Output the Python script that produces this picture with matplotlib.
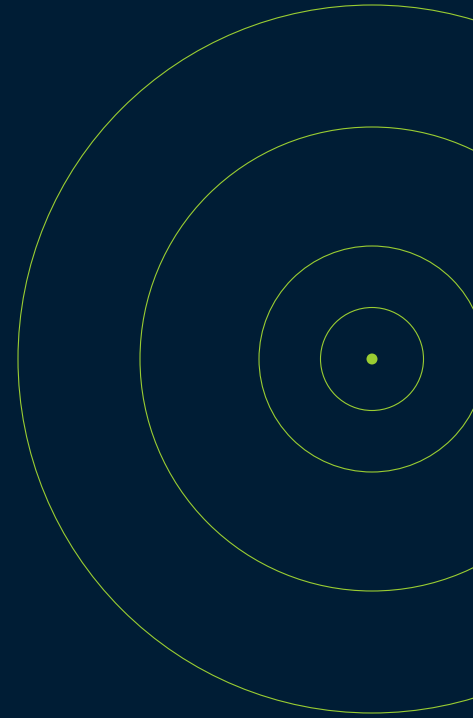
import matplotlib.pyplot as plt
from matplotlib.patches import Circle

# ring radii (px) around a common centre
radii = [51.5, 113, 232, 354]
center = (372, 359)
dot_radius = 5.5

bg = '#001d35'
ring_color = '#9acd32'

fig = plt.figure(figsize=(4.73, 7.18), dpi=100)
fig.patch.set_facecolor(bg)
ax = fig.add_axes([0, 0, 1, 1])
ax.set_facecolor(bg)
ax.set_xlim(0, 473)
ax.set_ylim(718, 0)
ax.set_aspect('equal')
ax.axis('off')

for r in radii:
    ax.add_patch(Circle(center, r, fill=False, edgecolor=ring_color, linewidth=0.8))

ax.add_patch(Circle(center, dot_radius, color=ring_color, linewidth=0))

fig.savefig('out.png', dpi=100, facecolor=bg)
